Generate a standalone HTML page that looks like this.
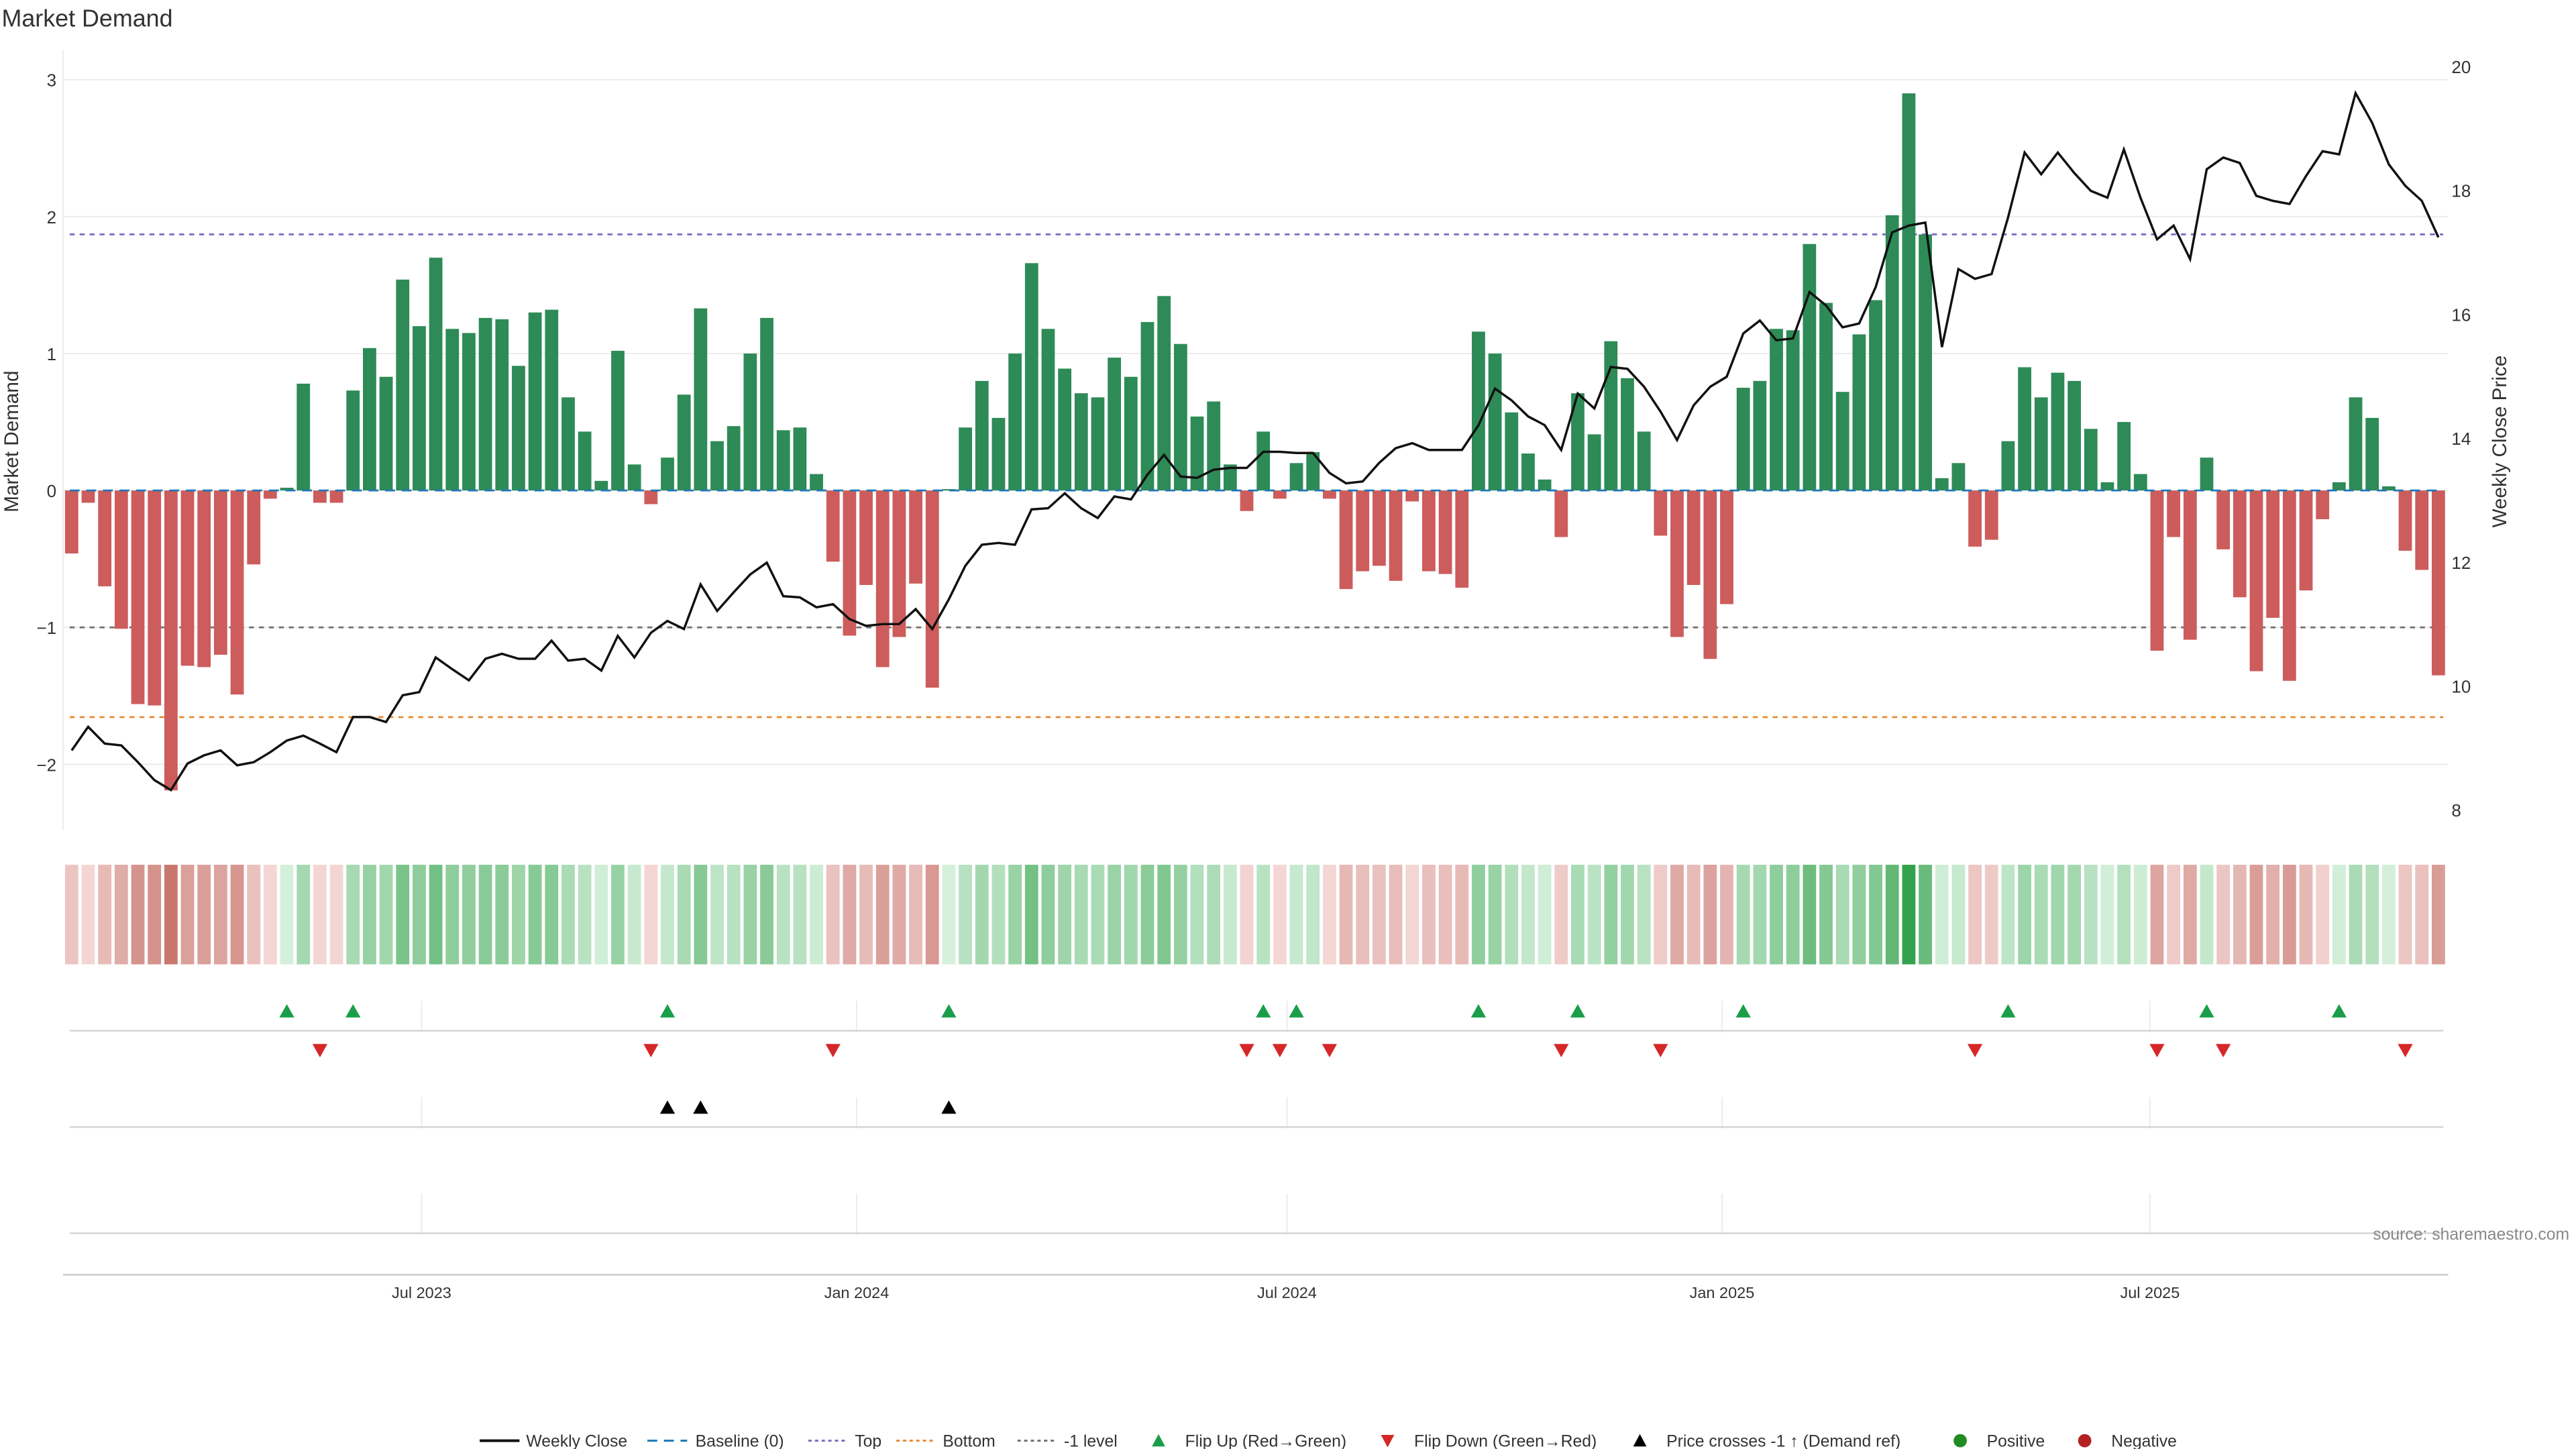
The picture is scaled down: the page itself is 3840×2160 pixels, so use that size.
<!DOCTYPE html>
<html><head><meta charset="utf-8"><title>Market Demand</title>
<style>
html,body{margin:0;padding:0;background:#fff;width:3840px;height:2160px;overflow:hidden}
svg{display:block;font-family:"Liberation Sans","DejaVu Sans",sans-serif}
</style></head>
<body>
<svg id="chart" width="3840" height="2160" viewBox="0 0 1552 873" xmlns="http://www.w3.org/2000/svg">
<rect width="1552" height="873" fill="#fff"/>
<text x="1" y="16" font-size="14.5" fill="#333">Market Demand</text>
<g id="grid"></g><g id="refs"></g><g id="bars"></g><g id="price"></g><g id="heat"></g><g id="events"></g><g id="axes"></g><g id="legend"></g>
</svg>
<script>
const demand=[-0.46,-0.09,-0.70,-1.01,-1.56,-1.57,-2.19,-1.28,-1.29,-1.20,-1.49,-0.54,-0.06,0.02,0.78,-0.09,-0.09,0.73,1.04,0.83,1.54,1.20,1.70,1.18,1.15,1.26,1.25,0.91,1.30,1.32,0.68,0.43,0.07,1.02,0.19,-0.10,0.24,0.70,1.33,0.36,0.47,1.00,1.26,0.44,0.46,0.12,-0.52,-1.06,-0.69,-1.29,-1.07,-0.68,-1.44,0.01,0.46,0.80,0.53,1.00,1.66,1.18,0.89,0.71,0.68,0.97,0.83,1.23,1.42,1.07,0.54,0.65,0.19,-0.15,0.43,-0.06,0.20,0.28,-0.06,-0.72,-0.59,-0.55,-0.66,-0.08,-0.59,-0.61,-0.71,1.16,1.00,0.57,0.27,0.08,-0.34,0.71,0.41,1.09,0.82,0.43,-0.33,-1.07,-0.69,-1.23,-0.83,0.75,0.80,1.18,1.17,1.80,1.37,0.72,1.14,1.39,2.01,2.90,1.87,0.09,0.20,-0.41,-0.36,0.36,0.90,0.68,0.86,0.80,0.45,0.06,0.50,0.12,-1.17,-0.34,-1.09,0.24,-0.43,-0.78,-1.32,-0.93,-1.39,-0.73,-0.21,0.06,0.68,0.53,0.03,-0.44,-0.58,-1.35];
const price=[8.96,9.34,9.07,9.04,8.77,8.48,8.32,8.75,8.88,8.96,8.72,8.77,8.93,9.12,9.20,9.07,8.93,9.50,9.50,9.42,9.85,9.90,10.46,10.27,10.09,10.44,10.52,10.44,10.44,10.73,10.41,10.44,10.25,10.81,10.46,10.86,11.05,10.92,11.64,11.21,11.51,11.80,11.99,11.45,11.43,11.27,11.32,11.08,10.97,11.00,11.00,11.24,10.92,11.40,11.94,12.28,12.31,12.28,12.85,12.87,13.11,12.87,12.71,13.06,13.01,13.41,13.73,13.38,13.36,13.49,13.52,13.52,13.78,13.78,13.76,13.76,13.44,13.27,13.30,13.60,13.84,13.92,13.81,13.81,13.81,14.21,14.80,14.61,14.35,14.21,13.81,14.72,14.48,15.15,15.12,14.83,14.43,13.97,14.53,14.83,14.99,15.69,15.90,15.58,15.61,16.36,16.14,15.79,15.85,16.44,17.32,17.43,17.48,15.47,16.73,16.57,16.65,17.56,18.61,18.26,18.61,18.28,17.99,17.88,18.66,17.88,17.21,17.43,16.89,18.34,18.53,18.44,17.91,17.83,17.78,18.23,18.63,18.58,19.57,19.09,18.42,18.07,17.83,17.24];
const startDate="2023-02-03";
const priceCrossIdx=[36,38,53];
const refTop=1.87, refBottom=-1.655, refMinus1=-1;
const leftTicks=[3,2,1,0,-1,-2];
const rightTicks=[20,18,16,14,12,10,8];
const xTickDates=["2023-07-01","2024-01-01","2024-07-01","2025-01-01","2025-07-01"];
const xTickLabels=["Jul 2023","Jan 2024","Jul 2024","Jan 2025","Jul 2025"];

const NS="http://www.w3.org/2000/svg";
function mk(tag,attrs,parent){const e=document.createElementNS(NS,tag);for(const k in attrs)e.setAttribute(k,attrs[k]);parent.appendChild(e);return e;}
const DAY=86400000, REF=Date.parse("2023-07-01");
function xDate(ms){return 254+(ms-REF)/DAY*1.4245;}
const t0=Date.parse(startDate);
function xi(i){return xDate(t0+i*7*DAY);}
function yL(v){return 295.5-v*82.5;}
function yR(p){return 40+(20-p)*37.33;}
const X0=38,X1=1475;
const G=id=>document.getElementById(id);

// grid
for(const t of leftTicks){
  const l=mk('line',{x1:X0,x2:X1,y1:yL(t),y2:yL(t),stroke:'#ececec','stroke-width':0.8},G('grid'));
  
  
  const tx=mk('text',{x:34,y:yL(t)+4,'text-anchor':'end','font-size':10.5,fill:'#333'},G('axes'));
  tx.textContent=t<0?'\u2212'+(-t):String(t);
  
  
}
for(const t of rightTicks){
  const tx=mk('text',{x:1477,y:yR(t)+4,'font-size':10.5,fill:'#333'},G('axes'));
  tx.textContent=String(t);
  
  
}
// vertical lower panel grid + x labels
xTickDates.forEach((d,k)=>{
  const x=xDate(Date.parse(d));
  for(const [a,b] of [[603,622],[661,680],[719,744]]){
    const l=mk('line',{x1:x,x2:x,y1:a,y2:b,stroke:'#ececec','stroke-width':0.8},G('grid'));
    
    
  }
  const tx=mk('text',{x:x,y:782,'text-anchor':'middle','font-size':9.5,fill:'#333'},G('axes'));
  tx.textContent=xTickLabels[k];
  
  
});
// panel lines
for(const [y,c] of [[621,'#d5d5d5'],[679,'#d5d5d5'],[743,'#d5d5d5'],[768,'#ccc']]){
  const l=mk('line',{x1:42,x2:1472,y1:y,y2:y,stroke:c,'stroke-width':1},G('grid'));
  if(y===768){l.setAttribute('x1',X0);l.setAttribute('x2',X1);}
  
  
}
{const l=mk('line',{x1:X0,x2:X0,y1:30,y2:500,stroke:'#eee','stroke-width':1},G('grid'));

}

// reference lines
function refLine(v,color,name,dash){
  const l=mk('line',{x1:42,x2:1472,y1:yL(v),y2:yL(v),stroke:color,'stroke-width':1.1,'stroke-dasharray':dash},G('refs'));
  
  
}
refLine(refTop,'#7b68c8','top-line','3,3');
refLine(refMinus1,'#707070','minus1-level-line','3,3');
refLine(refBottom,'#e8892e','bottom-line','3,3');

// bars
demand.forEach((v,i)=>{
  const x=xi(i);
  const y=v>=0?yL(v):yL(0), h=Math.abs(v)*82.5;
  const r=mk('rect',{x:x-4,y:y,width:8,height:Math.max(h,0.3),fill:v>=0?'#2e8b57':'#cd5c5c'},G('bars'));
  
  
});
{const l=mk('line',{x1:42,x2:1472,y1:yL(0),y2:yL(0),stroke:'#1f77b4','stroke-width':1.1,'stroke-dasharray':'6,4'},G('refs'));
G('bars').appendChild(l);

}

// price line
{const pts=price.map((p,i)=>xi(i).toFixed(1)+','+yR(p).toFixed(1)).join(' ');
const pl=mk('polyline',{points:pts,fill:'none',stroke:'#111','stroke-width':1.4,'stroke-linejoin':'miter'},G('price'));

}

// heat strip
function mix(a,b,t){return 'rgb('+a.map((c,k)=>Math.round(c+(b[k]-c)*t)).join(',')+')';}
demand.forEach((v,i)=>{
  const t=Math.min(Math.abs(v)/2.9,1);
  const col=v>=0?mix([214,240,220],[52,162,76],Math.pow(t,0.9)):mix([245,218,216],[200,118,110],Math.pow(t/0.76,1)>1?1:t/0.76);
  const r=mk('rect',{x:xi(i)-4,y:521,width:8,height:60,fill:col},G('heat'));
  
  
});

// events
function tri(x,y,up,color,name){
  const p=up?`${x-4.5},${y+4} ${x+4.5},${y+4} ${x},${y-4}`:`${x-4.5},${y-4} ${x+4.5},${y-4} ${x},${y+4}`;
  const e=mk('polygon',{points:p,fill:color},G('events'));
  
  
}
for(let i=1;i<demand.length;i++){
  if(demand[i-1]<0&&demand[i]>=0)tri(xi(i),609,true,'#1a9e4a','flip-up-marker');
  if(demand[i-1]>=0&&demand[i]<0)tri(xi(i),633,false,'#d62728','flip-down-marker');
}
priceCrossIdx.forEach(i=>tri(xi(i),667,true,'#000','price-cross-marker'));

// axis titles & source
{const t=mk('text',{x:0,y:0,transform:'translate(11,266) rotate(-90)','text-anchor':'middle','font-size':12,fill:'#333'},G('axes'));
t.textContent='Market Demand';

}
{const t=mk('text',{x:0,y:0,transform:'translate(1510,266) rotate(-90)','text-anchor':'middle','font-size':12,fill:'#333'},G('axes'));
t.textContent='Weekly Close Price';

}
{const t=mk('text',{x:1548,y:747,'text-anchor':'end','font-size':10,fill:'#888'},G('axes'));
t.textContent='source: sharemaestro.com';

}

// legend
const L=G('legend'), ly=868;
function ltext(x,s){const t=mk('text',{x:x,y:ly+3.5,'font-size':10,fill:'#333'},L);t.textContent=s;}
function lline(x,color,dash,w){const l=mk('line',{x1:x,x2:x+24,y1:ly,y2:ly,stroke:color,'stroke-width':w,'stroke-dasharray':dash},L);}
lline(289,'#111','none',1.6);ltext(317,'Weekly Close');
lline(390,'#1f77b4','6,4',1.2);ltext(419,'Baseline (0)');
lline(487,'#7b68c8','2,2',1.2);ltext(515,'Top');
lline(540,'#e8892e','2,2',1.2);ltext(568,'Bottom');
lline(613,'#707070','2,2',1.2);ltext(641,'-1 level');
function ltri(x,up,c){const p=up?`${x-4},${ly+3.5} ${x+4},${ly+3.5} ${x},${ly-4}`:`${x-4},${ly-3.5} ${x+4},${ly-3.5} ${x},${ly+4}`;const e=mk('polygon',{points:p,fill:c},L);}
ltri(698,true,'#1a9e4a');ltext(714,'Flip Up (Red\u2192Green)');
ltri(836,false,'#d62728');ltext(852,'Flip Down (Green\u2192Red)');
ltri(988,true,'#000');ltext(1004,'Price crosses -1 \u2191 (Demand ref)');
{const c=mk('circle',{cx:1181,cy:ly,r:4,fill:'#228b22'},L);}
ltext(1197,'Positive');
{const c=mk('circle',{cx:1256,cy:ly,r:4,fill:'#b22222'},L);}
ltext(1272,'Negative');
</script>
</body></html>
